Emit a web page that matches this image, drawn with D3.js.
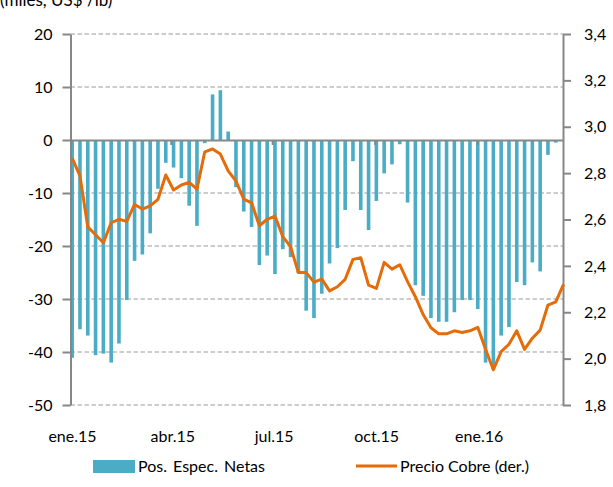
<!DOCTYPE html>
<html>
<head>
<meta charset="utf-8">
<script src="https://cdn.jsdelivr.net/npm/d3@7"></script>
<style>
  body { margin: 0; background: #fff; }
  text { font-family: Lato, "Open Sans", sans-serif; fill: #000; }
  .grid line { stroke: #9a9a9a; stroke-width: 1.2; stroke-dasharray: 4.5,2.5; }
  .axis path, .axis line { stroke: #878787; stroke-width: 2; }
</style>
</head>
<body>
<div id="chart"></div>
<script>
// semanas (viernes) desde 2 ene 2015
const firstWeek = new Date(2015, 0, 2)

// posiciones especulativas netas, miles de contratos
const posNetas = [
  -41.1, -35.7, -36.9, -40.6, -40.3, -42.0, -38.4, -30.2, -22.8, -21.6,
  -17.6, -9.2, -4.3, -5.2, -7.2, -12.4, -16.2, -0.6, 8.6, 9.4,
  1.6, -8.9, -13.5, -16.4, -23.6, -21.8, -25.3, -20.6, -22.1, -25.1,
  -32.2, -33.6, -29.0, -23.3, -20.4, -13.2, -4.0, -13.2, -17.0, -11.5,
  -6.3, -4.6, -0.8, -11.8, -27.4, -29.4, -33.6, -34.3, -34.3, -32.5,
  -30.2, -30.2, -31.9, -42.0, -43.3, -36.9, -35.3, -26.8, -27.4, -23.1,
  -24.8, -2.8, -0.5
]

// precio cobre, US$/lb
const precioCobre = [
  2.865, 2.788, 2.568, 2.534, 2.500, 2.586, 2.601, 2.592, 2.665, 2.645,
  2.659, 2.687, 2.792, 2.727, 2.749, 2.760, 2.731, 2.892, 2.904, 2.882,
  2.810, 2.766, 2.688, 2.672, 2.573, 2.601, 2.615, 2.526, 2.483, 2.371,
  2.371, 2.330, 2.343, 2.292, 2.310, 2.342, 2.428, 2.435, 2.317, 2.303,
  2.415, 2.386, 2.405, 2.332, 2.267, 2.190, 2.133, 2.107, 2.107, 2.120,
  2.113, 2.120, 2.135, 2.040, 1.952, 2.030, 2.062, 2.120, 2.040, 2.088,
  2.123, 2.231, 2.245, 2.320
]

const leftTicks = [20, 10, 0, -10, -20, -30, -40, -50]
const rightTicks = [3.4, 3.2, 3.0, 2.8, 2.6, 2.4, 2.2, 2.0, 1.8]
const quarterTicks = [new Date(2015, 0, 1), new Date(2015, 3, 1), new Date(2015, 6, 1), new Date(2015, 9, 1), new Date(2016, 0, 1)]
const quarterLabels = ["ene.15", "abr.15", "jul.15", "oct.15", "ene.16"]
const legendLabels = ["Pos. Espec. Netas", "Precio Cobre (der.)"]
const title = "(miles, US$ /lb)"

let width = 613
let height = 487
let margin = {top: 34, bottom: 82, left: 70.5, right: 50}
let fontSize = "16px"

let svg = d3.select("#chart").append("svg")
  .attr("width", width)
  .attr("height", height)

let weeks = d3.range(precioCobre.length).map(i => d3.timeHour.offset(d3.timeWeek.offset(firstWeek, i), 12))

let xScale = d3.scaleTime()
  .domain([new Date(2015, 0, 1), new Date(2016, 2, 18)])
  .range([margin.left, width - margin.right])
let yLeft = d3.scaleLinear().domain([-50, 20]).range([height - margin.bottom, margin.top])
let yRight = d3.scaleLinear().domain([1.8, 3.4]).range([height - margin.bottom, margin.top])
let comma = v => d3.format(".1f")(v).replace(".", ",")

let x0 = margin.left
let x1 = width - margin.right

// lineas de grilla
svg.append("g")
  .attr("class", "grid")
  .selectAll("line")
  .data(leftTicks.filter(d => d != 0))
  .join("line")
  .attr("x1", x0)
  .attr("x2", x1)
  .attr("y1", d => yLeft(d))
  .attr("y2", d => yLeft(d))

// barras
svg.append("g")
  .selectAll("rect")
  .data(posNetas)
  .join("rect")
  .attr("x", (d, i) => xScale(weeks[i]) - 1.8)
  .attr("width", 3.6)
  .attr("y", d => yLeft(Math.max(0, d)))
  .attr("height", d => Math.abs(yLeft(d) - yLeft(0)))
  .attr("fill", "#4bacc6")

// eje x en cero
svg.append("g")
  .attr("class", "axis")
  .attr("transform", "translate(0," + yLeft(0) + ")")
  .call(d3.axisBottom(xScale).tickValues(quarterTicks.slice(1)).tickSize(5).tickSizeOuter(0).tickFormat(""))

svg.append("g")
  .selectAll("text")
  .data(quarterLabels)
  .join("text")
  .attr("x", (d, i) => xScale(quarterTicks[i]) + 2)
  .attr("y", 442)
  .style("text-anchor", "middle")
  .style("font-size", fontSize)
  .text(d => d)

// ejes y
svg.append("g")
  .attr("class", "axis")
  .attr("transform", "translate(" + x0 + ",0)")
  .call(d3.axisLeft(yLeft).tickValues(leftTicks).tickSize(8).tickSizeOuter(0).tickPadding(10).tickFormat(d => String(d)))
  .selectAll("text").style("font-size", fontSize).style("font-family", "Lato, sans-serif")

svg.append("g")
  .attr("class", "axis")
  .attr("transform", "translate(" + x1 + ",0)")
  .call(d3.axisRight(yRight).tickValues(rightTicks).tickSize(8).tickSizeOuter(0).tickPadding(13).tickFormat(comma))
  .selectAll("text").style("font-size", fontSize).style("font-family", "Lato, sans-serif")

// linea de precio
let line = d3.line()
  .x((d, i) => xScale(weeks[i]))
  .y(d => yRight(d))

svg.append("path")
  .datum(precioCobre)
  .attr("d", line)
  .attr("fill", "none")
  .attr("stroke", "#e46c0a")
  .attr("stroke-width", 3)
  .attr("stroke-linejoin", "round")

svg.append("text")
  .attr("x", 0)
  .attr("y", 6)
  .style("font-size", "17px")
  .text(title)

// leyenda
let legend = svg.append("g").attr("transform", "translate(0,466)")
legend.append("rect")
  .attr("x", 93).attr("y", -6).attr("width", 42).attr("height", 13)
  .attr("fill", "#4bacc6")
legend.append("text")
  .attr("x", 138).attr("y", 6)
  .style("font-size", fontSize)
  .style("word-spacing", "2px")
  .text(legendLabels[0])
legend.append("line")
  .attr("x1", 356).attr("x2", 397).attr("y1", 0).attr("y2", 0)
  .attr("stroke", "#e46c0a").attr("stroke-width", 3)
legend.append("text")
  .attr("x", 400).attr("y", 6)
  .style("font-size", fontSize)
  .text(legendLabels[1])
</script>
</body>
</html>
